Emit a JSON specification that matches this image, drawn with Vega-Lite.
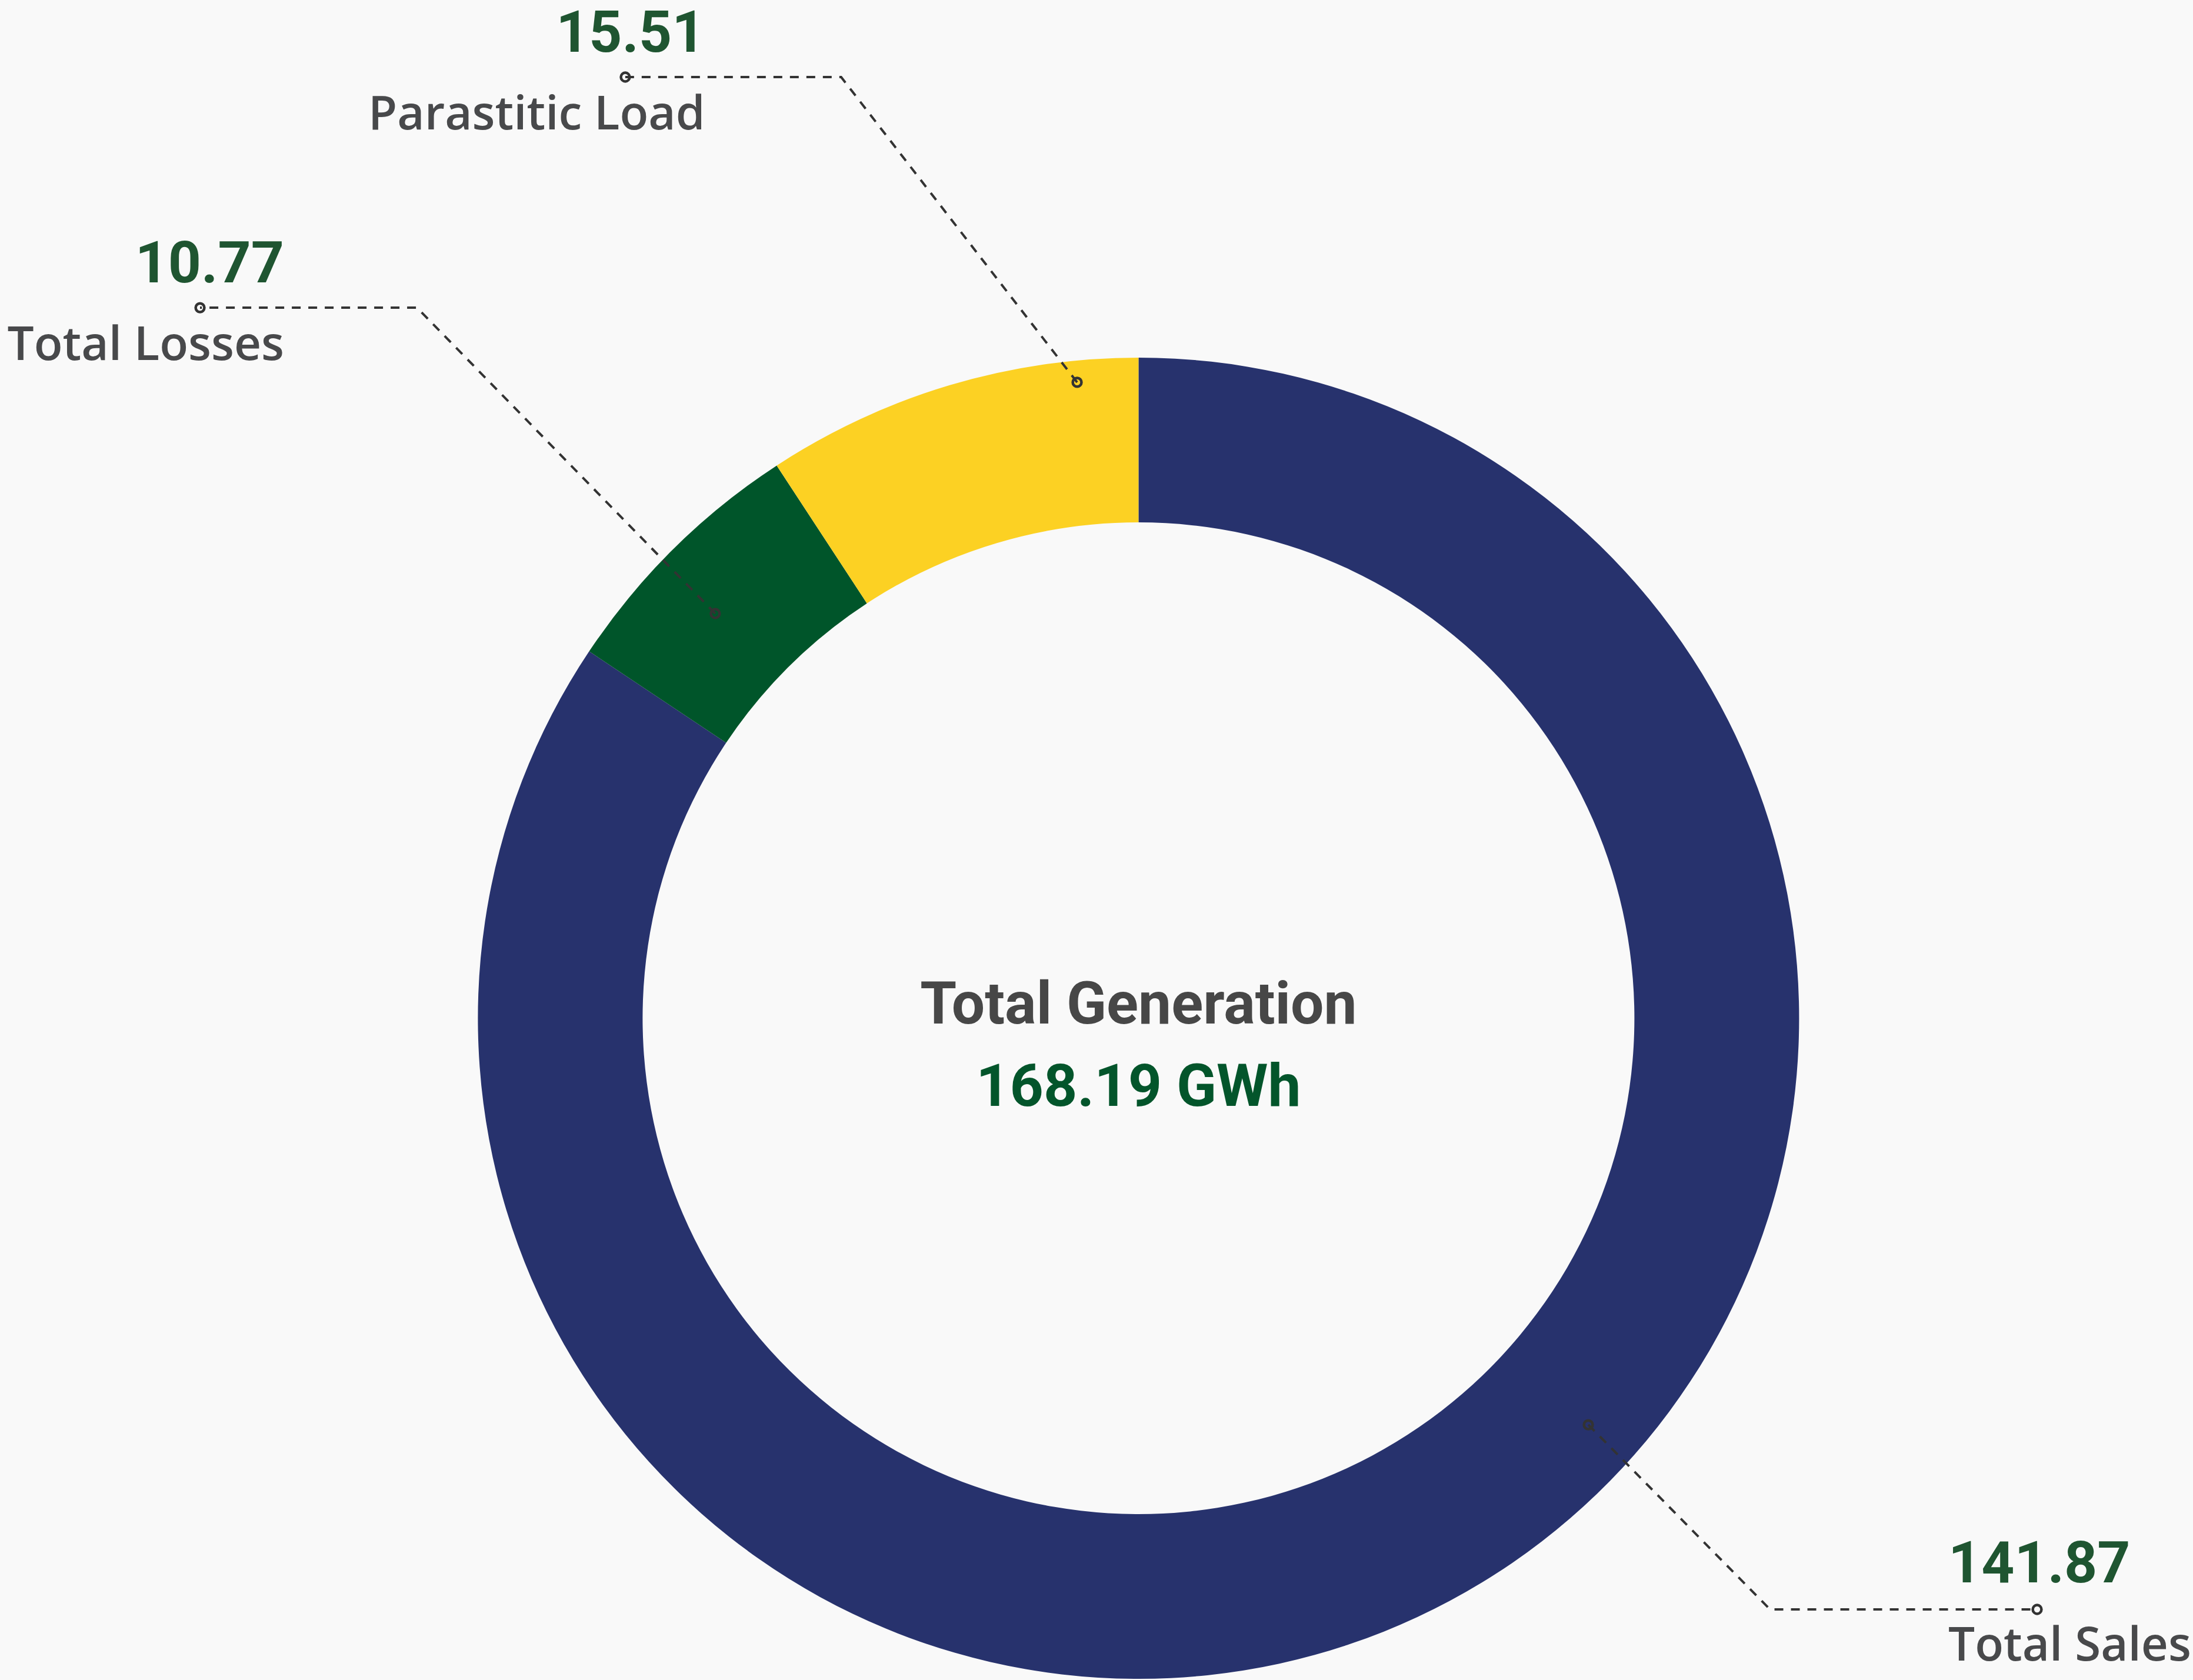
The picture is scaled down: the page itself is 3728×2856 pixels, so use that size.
{
  "$schema": "https://vega.github.io/schema/vega-lite/v6.json",
  "width": 3728,
  "height": 2856,
  "autosize": {"type": "fit", "contains": "padding"},
  "padding": 0,
  "background": "#F9F9F9",
  "config": {"view": {"stroke": null}},
  "datasets": {
    "segments": [
      {"cat": "Total Sales", "value": 141.87, "seq": 1},
      {"cat": "Total Losses", "value": 10.77, "seq": 2},
      {"cat": "Parastitic Load", "value": 15.51, "seq": 3}
    ],
    "leaders": [
      {"cat": "Parastitic Load", "pt": 0, "x": -0.0930, "y": 0.9635},
      {"cat": "Parastitic Load", "pt": 1, "x": -0.4505, "y": 1.4260},
      {"cat": "Parastitic Load", "pt": 2, "x": -0.7776, "y": 1.4260},
      {"cat": "Total Losses", "pt": 0, "x": -0.6413, "y": 0.6132},
      {"cat": "Total Losses", "pt": 1, "x": -1.0931, "y": 1.0766},
      {"cat": "Total Losses", "pt": 2, "x": -1.4219, "y": 1.0766},
      {"cat": "Total Sales", "pt": 0, "x": 0.6815, "y": -0.6159},
      {"cat": "Total Sales", "pt": 1, "x": 0.9569, "y": -0.8957},
      {"cat": "Total Sales", "pt": 2, "x": 1.3615, "y": -0.8957}
    ],
    "labels": [
      {"cat": "Parastitic Load", "num": "15.51", "side": "L", "x": -0.6568, "ny": 1.4643, "ly": 1.3467},
      {"cat": "Total Losses", "num": "10.77", "side": "L", "x": -1.2945, "ny": 1.1150, "ly": 0.9973},
      {"cat": "Total Sales", "num": "141.87", "side": "R", "x": 1.2269, "ny": -0.8547, "ly": -0.9733}
    ],
    "center": [
      {"text": "Total Generation", "y": -0.0080, "kind": "title"},
      {"text": "168.19 GWh", "y": -0.1328, "kind": "value"}
    ]
  },
  "layer": [
    {
      "data": {"name": "segments"},
      "mark": {"type": "arc", "outerRadius": 1123, "innerRadius": 843},
      "encoding": {
        "theta": {"field": "value", "type": "quantitative", "stack": true},
        "order": {"field": "seq", "type": "quantitative"},
        "color": {
          "field": "cat",
          "type": "nominal",
          "scale": {
            "domain": ["Total Sales", "Total Losses", "Parastitic Load"],
            "range": ["#27326D", "#00552A", "#FCD123"]
          },
          "legend": null
        },
        "x": {"datum": 0, "type": "quantitative", "scale": {"domain": [-1.72496, 1.59768], "nice": false, "zero": false}, "axis": null},
        "y": {"datum": 0, "type": "quantitative", "scale": {"domain": [-1.00267, 1.54278], "nice": false, "zero": false}, "axis": null}
      }
    },
    {
      "data": {"name": "leaders"},
      "mark": {"type": "line", "strokeDash": [15, 13], "strokeWidth": 4, "color": "#333333"},
      "encoding": {
        "x": {"field": "x", "type": "quantitative", "scale": {"domain": [-1.72496, 1.59768], "nice": false, "zero": false}, "axis": null},
        "y": {"field": "y", "type": "quantitative", "scale": {"domain": [-1.00267, 1.54278], "nice": false, "zero": false}, "axis": null},
        "detail": {"field": "cat", "type": "nominal"},
        "order": {"field": "pt", "type": "quantitative"}
      }
    },
    {
      "data": {"name": "leaders"},
      "transform": [{"filter": "datum.pt != 1"}],
      "mark": {"type": "point", "shape": "circle", "filled": false, "size": 220, "strokeWidth": 4.5, "color": "#333333", "opacity": 1},
      "encoding": {
        "x": {"field": "x", "type": "quantitative"},
        "y": {"field": "y", "type": "quantitative"}
      }
    },
    {
      "data": {"name": "labels"},
      "transform": [{"filter": "datum.side == 'L'"}],
      "mark": {"type": "text", "align": "right", "baseline": "alphabetic", "font": "Roboto", "fontWeight": "bold", "fontSize": 98, "color": "#1F5531"},
      "encoding": {
        "x": {"field": "x", "type": "quantitative"},
        "y": {"field": "ny", "type": "quantitative"},
        "text": {"field": "num"}
      }
    },
    {
      "data": {"name": "labels"},
      "transform": [{"filter": "datum.side == 'R'"}],
      "mark": {"type": "text", "align": "left", "baseline": "alphabetic", "font": "Roboto", "fontWeight": "bold", "fontSize": 98, "color": "#1F5531"},
      "encoding": {
        "x": {"field": "x", "type": "quantitative"},
        "y": {"field": "ny", "type": "quantitative"},
        "text": {"field": "num"}
      }
    },
    {
      "data": {"name": "labels"},
      "transform": [{"filter": "datum.side == 'L'"}],
      "mark": {"type": "text", "align": "right", "baseline": "alphabetic", "font": "Open Sans", "fontWeight": 600, "fontSize": 80, "color": "#48494B"},
      "encoding": {
        "x": {"field": "x", "type": "quantitative"},
        "y": {"field": "ly", "type": "quantitative"},
        "text": {"field": "cat"}
      }
    },
    {
      "data": {"name": "labels"},
      "transform": [{"filter": "datum.side == 'R'"}],
      "mark": {"type": "text", "align": "left", "baseline": "alphabetic", "font": "Open Sans", "fontWeight": 600, "fontSize": 80, "color": "#48494B"},
      "encoding": {
        "x": {"field": "x", "type": "quantitative"},
        "y": {"field": "ly", "type": "quantitative"},
        "text": {"field": "cat"}
      }
    },
    {
      "data": {"name": "center"},
      "transform": [{"filter": "datum.kind == 'title'"}],
      "mark": {"type": "text", "align": "center", "baseline": "alphabetic", "font": "Roboto", "fontWeight": "bold", "fontSize": 100, "color": "#474747"},
      "encoding": {
        "x": {"datum": 0, "type": "quantitative"},
        "y": {"field": "y", "type": "quantitative"},
        "text": {"field": "text"}
      }
    },
    {
      "data": {"name": "center"},
      "transform": [{"filter": "datum.kind == 'value'"}],
      "mark": {"type": "text", "align": "center", "baseline": "alphabetic", "font": "Roboto", "fontWeight": "bold", "fontSize": 100, "color": "#03552B"},
      "encoding": {
        "x": {"datum": 0, "type": "quantitative"},
        "y": {"field": "y", "type": "quantitative"},
        "text": {"field": "text"}
      }
    }
  ]
}
